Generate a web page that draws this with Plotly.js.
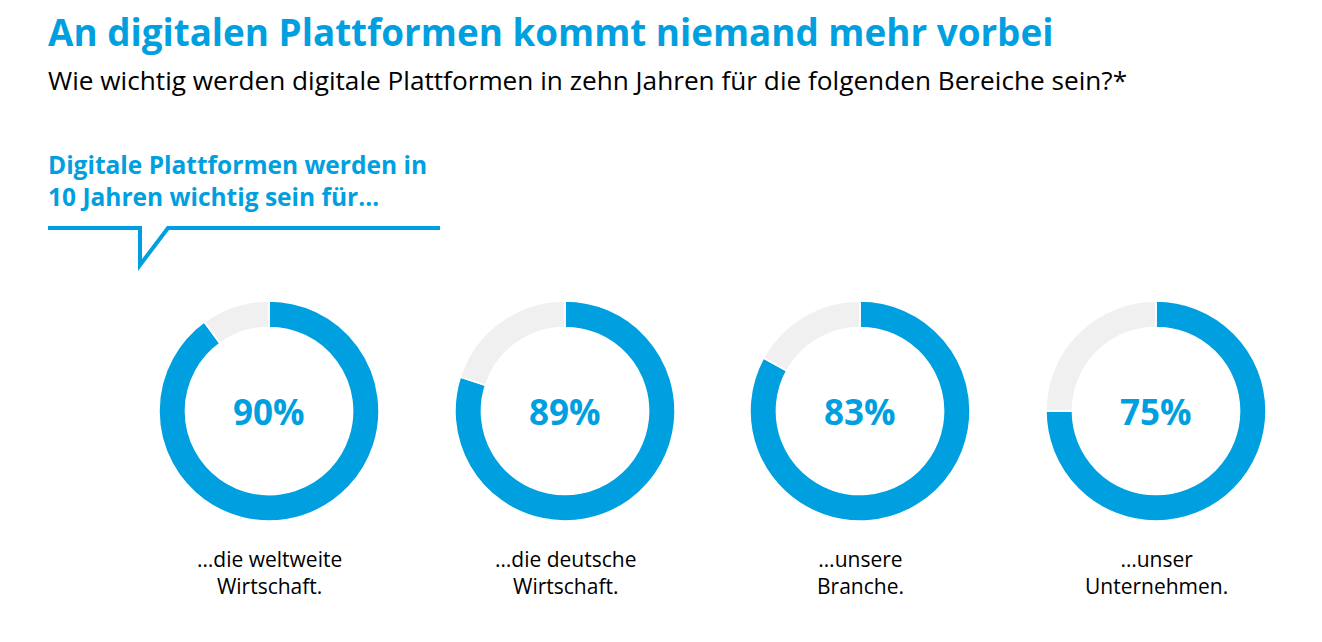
<!DOCTYPE html>
<html>
<head>
<meta charset="utf-8">
<script src="https://cdn.plot.ly/plotly-3.0.1.min.js"></script>
<style>
  html, body { margin: 0; padding: 0; background: #ffffff; }
  #chart { width: 1322px; height: 642px; }
</style>
</head>
<body>
<div id="chart"></div>
<script>
// ---- Data ----
const categories = [
  "…die weltweite<br>Wirtschaft.",
  "…die deutsche<br>Wirtschaft.",
  "…unsere<br>Branche.",
  "…unser<br>Unternehmen."
];
// Percentages printed in the centre of each ring
const shownPercent = [90, 89, 83, 75];
// Share of each ring drawn in blue
const arcShare = [90, 80, 83, 75];

// ---- Style ----
const BLUE = "#00a0e0";
const GREY = "#f0f0f0";
const W = 1322, H = 642;
const FONT = "Open Sans, Noto Sans, sans-serif";

const centersPx = [269, 565, 860, 1156];
const ringCenterY = 411;
const ringR = 110;

const px = x => x / W;
const py = y => 1 - y / H;

const traces = arcShare.map((v, i) => ({
  type: "pie",
  values: [v, 100 - v],
  labels: ["wichtig", "nicht wichtig"],
  sort: false,
  direction: "clockwise",
  rotation: 0,
  hole: 0.76,
  textinfo: "none",
  hoverinfo: "skip",
  showlegend: false,
  marker: { colors: [BLUE, GREY], line: { color: "#ffffff", width: 1.5 } },
  domain: {
    x: [px(centersPx[i] - ringR), px(centersPx[i] + ringR)],
    y: [py(ringCenterY + ringR), py(ringCenterY - ringR)]
  }
}));

const annotations = [];
// Title
annotations.push({
  xref: "paper", yref: "paper", x: px(46), y: py(32),
  xanchor: "left", yanchor: "middle", showarrow: false,
  text: "<b>An digitalen Plattformen kommt niemand mehr vorbei</b>",
  font: { family: FONT, size: 36.8, color: BLUE }
});
// Subtitle
annotations.push({
  xref: "paper", yref: "paper", x: px(46), y: py(80),
  xanchor: "left", yanchor: "middle", showarrow: false,
  text: "Wie wichtig werden digitale Plattformen in zehn Jahren für die folgenden Bereiche sein?*",
  font: { family: FONT, size: 26.2, color: "#000000" }
});
// Callout
annotations.push({
  xref: "paper", yref: "paper", x: px(46), y: py(180),
  xanchor: "left", yanchor: "middle", showarrow: false, align: "left",
  text: "<b>Digitale Plattformen werden in<br>10 Jahren wichtig sein für…</b>",
  font: { family: FONT, size: 24.5, color: BLUE }
});
// Ring centre values and category labels
shownPercent.forEach((p, i) => {
  annotations.push({
    xref: "paper", yref: "paper", x: px(centersPx[i]), y: py(ringCenterY),
    xanchor: "center", yanchor: "middle", showarrow: false,
    text: "<b>" + p + "%</b>",
    font: { family: FONT, size: 35, color: BLUE }
  });
  annotations.push({
    xref: "paper", yref: "paper", x: px(centersPx[i]), y: py(572),
    xanchor: "center", yanchor: "middle", showarrow: false, align: "center",
    text: categories[i],
    font: { family: FONT, size: 21, color: "#000000" }
  });
});

// Speech-bubble line under the callout
const bubblePts = [[48, 228], [140, 228], [140, 265], [168, 228], [440, 228]];
const bubblePath = bubblePts.map((p, k) => (k ? "L" : "M") + px(p[0]) + "," + py(p[1])).join(" ");

const layout = {
  width: W, height: H,
  margin: { l: 0, r: 0, t: 0, b: 0 },
  paper_bgcolor: "#ffffff",
  plot_bgcolor: "#ffffff",
  showlegend: false,
  annotations: annotations,
  shapes: [{
    type: "path", xref: "paper", yref: "paper", path: bubblePath,
    line: { color: BLUE, width: 4 }
  }]
};

Plotly.newPlot("chart", traces, layout, { displayModeBar: false, staticPlot: true });
</script>
</body>
</html>
